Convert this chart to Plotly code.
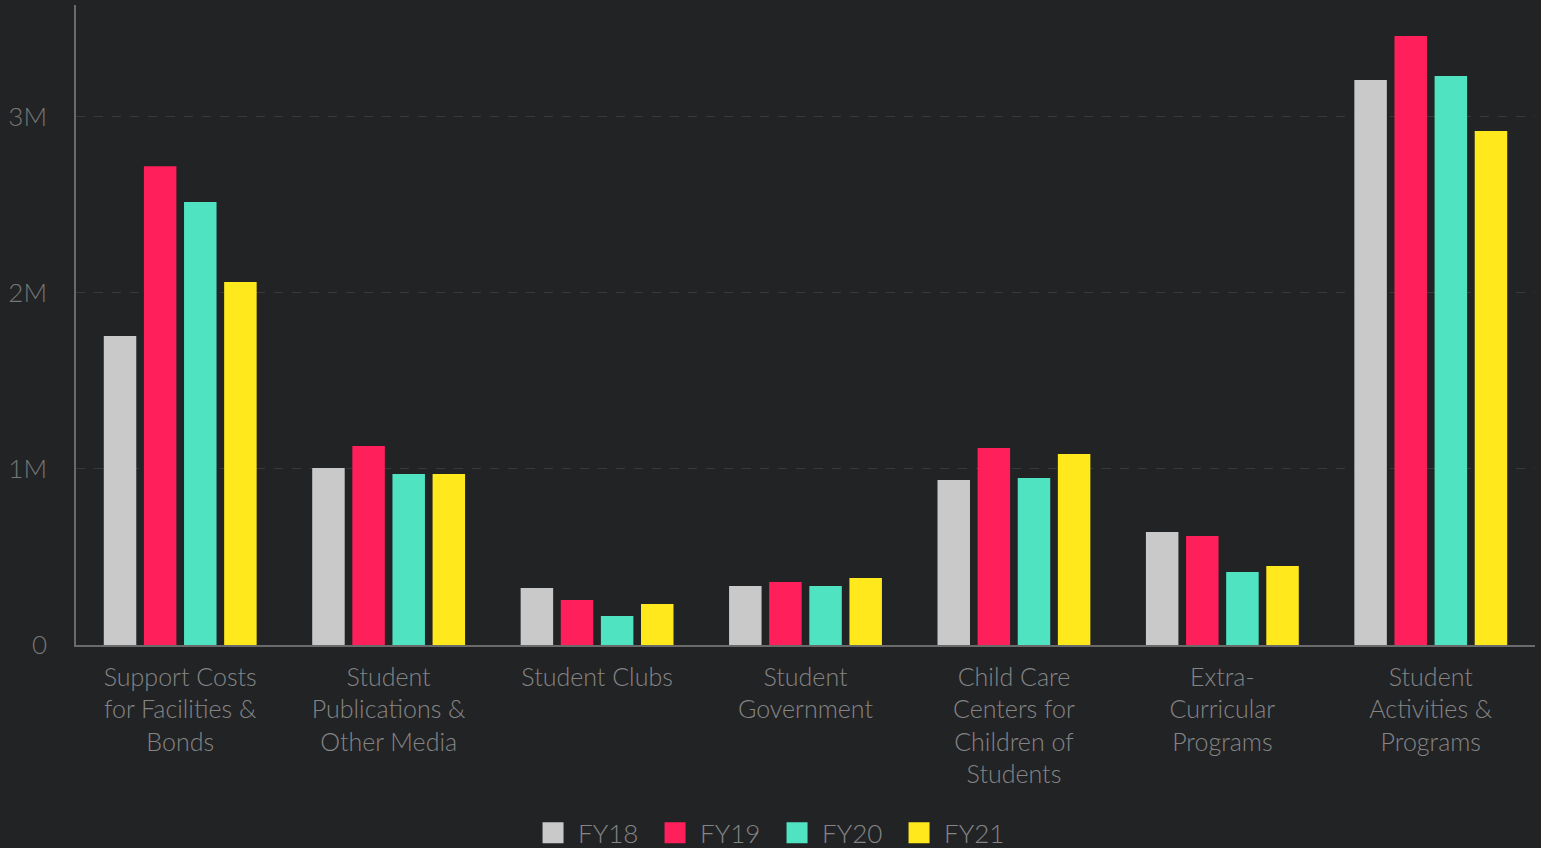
import plotly.graph_objects as go

categories = [
    "Support Costs<br>for Facilities &<br>Bonds",
    "Student<br>Publications &<br>Other Media",
    "Student Clubs",
    "Student<br>Government",
    "Child Care<br>Centers for<br>Children of<br>Students",
    "Extra-<br>Curricular<br>Programs",
    "Student<br>Activities &<br>Programs",
]
fy18 = [1756000, 1006000, 324000, 335000, 937000, 642000, 3210000]
fy19 = [2720000, 1131000, 256000, 358000, 1119000, 619000, 3460000]
fy20 = [2517000, 972000, 165000, 335000, 949000, 415000, 3233000]
fy21 = [2062000, 972000, 233000, 381000, 1085000, 449000, 2920000]

series = [("FY18", fy18, "#c9c9c9"), ("FY19", fy19, "#ff1f5b"),
          ("FY20", fy20, "#4fe3c2"), ("FY21", fy21, "#ffe81c")]

fig = go.Figure()
for name, vals, col in series:
    fig.add_trace(go.Bar(name=name, x=categories, y=vals, marker_color=col,
                         marker_line_width=0, showlegend=False))
for name, vals, col in series:
    fig.add_trace(go.Scatter(name=name, x=[None], y=[None], mode="markers",
                             marker=dict(symbol="square", size=16, color=col,
                                         line=dict(color=col, width=5)),
                             showlegend=True))

font_fam = "Lato Light, Lato"
fig.update_layout(
    width=1541, height=848,
    paper_bgcolor="#222325", plot_bgcolor="#222325",
    margin=dict(l=76, r=6, t=5, b=203, autoexpand=False),
    barmode="group", bargap=0.23, bargroupgap=0.19,
    font=dict(family=font_fam, size=25, color="#858585", weight=300),
    showlegend=True,
    legend=dict(orientation="h", xref="container", yref="container",
                x=0.501, xanchor="center", y=0.018, yanchor="middle",
                font=dict(size=26, color="#858585", family=font_fam, weight=300),
                itemsizing="trace", traceorder="normal", bgcolor="rgba(0,0,0,0)",
                itemwidth=40, entrywidth=67),
)
fig.update_xaxes(showline=True, linecolor="#6a6a6a", linewidth=1.5, showgrid=False,
                 tickfont=dict(size=25, color="#858585", family=font_fam, weight=300),
                 ticks="", ticklabelstandoff=9)
fig.update_yaxes(range=[0, 3636000], tickvals=[0, 1000000, 2000000, 3000000],
                 ticktext=["0", "1M", "2M", "3M"],
                 showline=True, linecolor="#6a6a6a", linewidth=1.5,
                 showgrid=True, gridcolor="#38393b", griddash="dash", gridwidth=1,
                 zeroline=False,
                 tickfont=dict(size=26, color="#777777", family=font_fam, weight=300),
                 ticks="", ticklabelstandoff=22)

fig.write_html("out.html", config={"displayModeBar": False},
               post_script="document.body.style.margin='0';document.body.style.background='#222325';")
